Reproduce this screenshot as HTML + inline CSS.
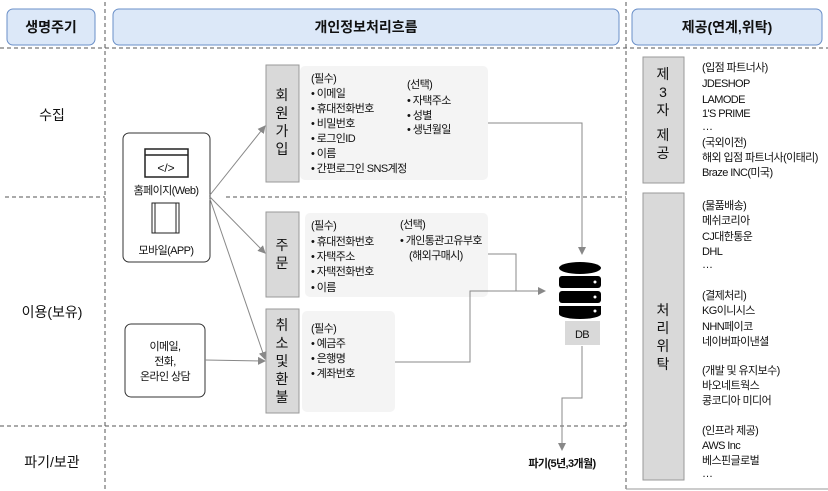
<!DOCTYPE html>
<html><head><meta charset="utf-8"><style>
html,body{margin:0;padding:0;background:#fff}
svg{display:block}
text{font-family:"Liberation Sans","Noto Sans CJK KR",sans-serif;fill:#111}
.s{font-size:11px;letter-spacing:-0.6px}
.h{font-size:14px;font-weight:bold}
.l{font-size:14px}
.v{font-size:14px;fill:#555}
</style></head><body>
<svg width="828" height="491" viewBox="0 0 828 491" xmlns="http://www.w3.org/2000/svg">
<defs><marker id="a" markerWidth="8" markerHeight="8" refX="7" refY="4" orient="auto" markerUnits="userSpaceOnUse"><path d="M0,0 L8,4 L0,8 z" fill="#888"/></marker></defs>
<!-- headers -->
<rect x="7" y="9" width="88" height="36" rx="6" fill="#dce8f8" stroke="#6a8fc8"/>
<rect x="113" y="9" width="506" height="36" rx="6" fill="#dce8f8" stroke="#6a8fc8"/>
<rect x="632" y="9" width="190" height="36" rx="6" fill="#dce8f8" stroke="#6a8fc8"/>
<text class="h" x="51" y="32" text-anchor="middle">생명주기</text>
<text class="h" x="366" y="32" text-anchor="middle">개인정보처리흐름</text>
<text class="h" x="727" y="32" text-anchor="middle">제공(연계,위탁)</text>
<!-- dashed lines -->
<g stroke="#555" stroke-dasharray="4,3" fill="none">
<line x1="0" y1="48" x2="828" y2="48"/>
<line x1="105" y1="2" x2="105" y2="491"/>
<line x1="626" y1="2" x2="626" y2="491"/>
<line x1="5" y1="197" x2="105" y2="197"/>
<line x1="226" y1="197" x2="626" y2="197"/>
<line x1="0" y1="426" x2="626" y2="426"/>
</g>
<line x1="626" y1="489" x2="828" y2="489" stroke="#999"/>
<text class="l" x="52" y="120" text-anchor="middle">수집</text>
<text class="l" x="52" y="317" text-anchor="middle">이용(보유)</text>
<text class="l" x="52" y="467" text-anchor="middle">파기/보관</text>
<!-- web box -->
<rect x="123" y="133" width="87" height="129" rx="6" fill="#fff" stroke="#333"/>
<rect x="145" y="149" width="43" height="28" fill="#fff" stroke="#222" stroke-width="1.5"/>
<line x1="145" y1="155" x2="188" y2="155" stroke="#222" stroke-width="1.5"/>
<text x="166" y="172" font-size="12" text-anchor="middle">&lt;/&gt;</text>
<text class="s" x="166" y="194" text-anchor="middle">홈페이지(Web)</text>
<rect x="152" y="203" width="27" height="30" fill="#fff" stroke="#222"/>
<rect x="155" y="203" width="21" height="30" fill="#fff" stroke="#222"/>
<text class="s" x="166" y="254" text-anchor="middle">모바일(APP)</text>
<!-- email box -->
<rect x="125" y="324" width="80" height="73" rx="6" fill="#fff" stroke="#333"/>
<text class="s" x="165" y="350" text-anchor="middle">이메일,</text>
<text class="s" x="165" y="365" text-anchor="middle">전화,</text>
<text class="s" x="165" y="380" text-anchor="middle">온라인 상담</text>
<!-- grey boxes -->
<g fill="#d9d9d9" stroke="#999">
<rect x="266" y="65" width="33" height="117"/>
<rect x="266" y="212" width="33" height="85"/>
<rect x="266" y="309" width="33" height="104"/>
<rect x="643" y="57" width="41" height="126"/>
<rect x="643" y="193" width="41" height="287"/>
</g>
<g fill="#f4f4f4">
<rect x="300" y="66" width="188" height="114" rx="5"/>
<rect x="305" y="213" width="183" height="84" rx="5"/>
<rect x="302" y="311" width="93" height="101" rx="5"/>
</g>
<g class="v" text-anchor="middle">
<text x="282" y="100">회</text><text x="282" y="118">원</text><text x="282" y="136">가</text><text x="282" y="154">입</text>
<text x="282" y="250">주</text><text x="282" y="268">문</text>
<text x="282" y="330">취</text><text x="282" y="348">소</text><text x="282" y="366">및</text><text x="282" y="384">환</text><text x="282" y="402">불</text>
<text x="663" y="79">제</text><text x="663" y="97">3</text><text x="663" y="115">자</text><text x="663" y="140">제</text><text x="663" y="158">공</text>
<text x="663" y="315">처</text><text x="663" y="333">리</text><text x="663" y="351">위</text><text x="663" y="369">탁</text>
</g>
<!-- panel texts -->
<g class="s">
<text x="311" y="82">(필수)</text>
<text x="311" y="97">• 이메일</text>
<text x="311" y="112">• 휴대전화번호</text>
<text x="311" y="127">• 비밀번호</text>
<text x="311" y="142">• 로그인ID</text>
<text x="311" y="157">• 이름</text>
<text x="311" y="172">• 간편로그인 SNS계정</text>
<text x="407" y="88">(선택)</text>
<text x="407" y="104">• 자택주소</text>
<text x="407" y="119">• 성별</text>
<text x="407" y="133">• 생년월일</text>
<text x="311" y="229">(필수)</text>
<text x="311" y="245">• 휴대전화번호</text>
<text x="311" y="260">• 자택주소</text>
<text x="311" y="275">• 자택전화번호</text>
<text x="311" y="291">• 이름</text>
<text x="400" y="228">(선택)</text>
<text x="400" y="244">• 개인통관고유부호</text>
<text x="409" y="259">(해외구매시)</text>
<text x="311" y="332">(필수)</text>
<text x="311" y="347">• 예금주</text>
<text x="311" y="362">• 은행명</text>
<text x="311" y="377">• 계좌번호</text>
</g>
<g class="s">
<text x="702" y="71">(입점 파트너사)</text>
<text x="702" y="87">JDESHOP</text>
<text x="702" y="103">LAMODE</text>
<text x="702" y="117">1'S PRIME</text>
<text x="702" y="130">…</text>
<text x="702" y="146">(국외이전)</text>
<text x="702" y="161">해외 입점 파트너사(이태리)</text>
<text x="702" y="176">Braze INC(미국)</text>
<text x="702" y="209">(물품배송)</text>
<text x="702" y="224">메쉬코리아</text>
<text x="702" y="240">CJ대한통운</text>
<text x="702" y="255">DHL</text>
<text x="702" y="268">…</text>
<text x="702" y="299">(결제처리)</text>
<text x="702" y="314">KG이니시스</text>
<text x="702" y="330">NHN페이코</text>
<text x="702" y="345">네이버파이낸셜</text>
<text x="702" y="374">(개발 및 유지보수)</text>
<text x="702" y="389">바오네트웍스</text>
<text x="702" y="404">콩코디아 미디어</text>
<text x="702" y="434">(인프라 제공)</text>
<text x="702" y="449">AWS Inc</text>
<text x="702" y="464">베스핀글로벌</text>
<text x="702" y="477">…</text>
</g>
<!-- connectors -->
<g stroke="#888" fill="none" stroke-width="1">
<line x1="210" y1="195" x2="265" y2="126" marker-end="url(#a)"/>
<line x1="210" y1="197" x2="265" y2="253" marker-end="url(#a)"/>
<line x1="210" y1="199" x2="265" y2="359" marker-end="url(#a)"/>
<line x1="205" y1="360" x2="265" y2="361" marker-end="url(#a)"/>
<polyline points="488,123 582,123 582,254" marker-end="url(#a)"/>
<polyline points="488,254 516,254 516,291 545,291" marker-end="url(#a)"/>
<polyline points="395,362 470,362 470,291 516,291"/>
<polyline points="582,346 582,398 562,398 562,450" marker-end="url(#a)"/>
</g>
<!-- DB -->
<g fill="#000">
<ellipse cx="580" cy="268" rx="21" ry="6"/>
<rect x="559" y="276" width="42" height="12" rx="3"/>
<rect x="559" y="291" width="42" height="12" rx="3"/>
<path d="M559,306 h42 v8 a21,5 0 0 1 -42,0 z"/>
</g>
<g fill="#fff"><circle cx="595" cy="282" r="1.5"/><circle cx="595" cy="297" r="1.5"/><circle cx="595" cy="311" r="1.5"/></g>
<rect x="565" y="321" width="35" height="24" fill="#d9d9d9"/>
<text class="s" x="582" y="338" text-anchor="middle" font-size="12">DB</text>
<text x="562" y="467" text-anchor="middle" font-size="11" font-weight="bold" letter-spacing="-0.6">파기(5년,3개월)</text>
</svg>
</body></html>
